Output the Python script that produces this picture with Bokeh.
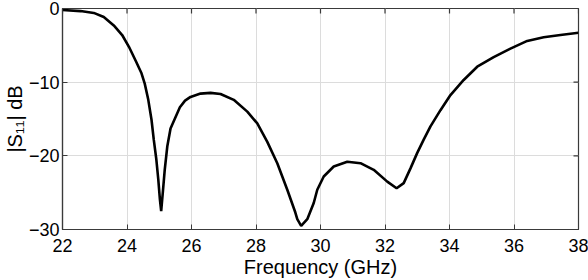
import math
from bokeh.plotting import figure
from bokeh.models import Range1d, FixedTicker
from bokeh.embed import file_html
from bokeh.resources import INLINE

# Data
freq_ghz = [22.0, 22.56, 22.97, 23.28, 23.59, 23.85, 24.06, 24.28, 24.45, 24.55,
            24.66, 24.76, 24.83, 24.91, 24.97, 25.02, 25.06, 25.11, 25.17, 25.25,
            25.35, 25.5, 25.64, 25.8, 25.97, 26.28, 26.59, 26.9, 27.31, 27.73,
            28.04, 28.35, 28.66, 28.97, 29.22, 29.28, 29.40, 29.59, 29.79, 29.9,
            30.1, 30.41, 30.83, 31.24, 31.65, 32.07, 32.36, 32.58, 32.79, 33.0,
            33.2, 33.41, 33.72, 34.03, 34.44, 34.86, 35.37, 35.89, 36.41, 36.92,
            37.44, 38.0]
s11_db = [-0.2, -0.35, -0.6, -1.15, -2.3, -3.6, -5.2, -7.2, -8.8, -10.2,
          -12.4, -15.1, -17.8, -20.5, -23.2, -25.9, -27.5, -25.0, -21.9, -18.7,
          -16.3, -14.8, -13.4, -12.5, -12.0, -11.55, -11.45, -11.6, -12.4, -14.0,
          -15.6, -18.1, -21.0, -24.6, -27.7, -28.6, -29.5, -28.6, -26.4, -24.6,
          -22.8, -21.45, -20.8, -21.0, -21.9, -23.5, -24.4, -23.7, -21.7, -19.6,
          -17.8, -16.0, -13.8, -11.75, -9.7, -7.9, -6.6, -5.45, -4.4, -3.9,
          -3.6, -3.3]

x_ticks = [22, 24, 26, 28, 30, 32, 34, 36, 38]
y_ticks = [-30, -20, -10, 0]
x_title = "Frequency (GHz)"
y_title = "|S\u2081\u2081| dB"

FONT = "Liberation Sans"
AX = "#3a3a3a"

p = figure(width=588, height=280, output_backend="svg", toolbar_location=None,
           x_range=Range1d(22, 38), y_range=Range1d(-30, 0),
           min_border_left=62, min_border_right=10, min_border_top=8,
           min_border_bottom=50)
p.background_fill_color = "white"
p.border_fill_color = "white"
p.outline_line_color = AX
p.outline_line_width = 1.2

for ax in (p.xaxis[0], p.yaxis[0]):
    ax.major_tick_in = 5
    ax.major_tick_out = 0
    ax.minor_tick_in = 0
    ax.minor_tick_out = 0
    ax.axis_line_color = AX
    ax.axis_line_width = 1.2
    ax.major_tick_line_color = AX
    ax.major_label_text_font = FONT
    ax.major_label_text_font_size = "18px"
    ax.major_label_text_color = "black"
    ax.axis_label_text_font = FONT
    ax.axis_label_text_font_style = "normal"
    ax.axis_label_text_font_size = "20px"
    ax.axis_label_text_color = "black"

p.xaxis[0].ticker = FixedTicker(ticks=x_ticks)
p.yaxis[0].ticker = FixedTicker(ticks=y_ticks)
p.xaxis[0].axis_label = x_title
p.yaxis[0].axis_label = y_title
p.xaxis[0].major_label_standoff = 9
p.xaxis[0].axis_label_standoff = 1
p.yaxis[0].major_label_standoff = 3
p.yaxis[0].axis_label_standoff = 0

p.xgrid.ticker = FixedTicker(ticks=x_ticks)
p.ygrid.ticker = FixedTicker(ticks=y_ticks)
p.grid.grid_line_color = "#dcdcdc"
p.grid.grid_line_width = 1

# inner tick marks on the top and right borders (box style)
y_top = p.y_range.end
x_right = p.x_range.end
p.scatter(x_ticks, [y_top] * len(x_ticks), marker="dash", size=10, angle=math.pi / 2,
          line_color=AX, line_width=1.2)
p.scatter([x_right] * len(y_ticks), y_ticks, marker="dash", size=10,
          line_color=AX, line_width=1.2)

p.line(freq_ghz, s11_db, line_color="black", line_width=2.6)

open("out.html", "w").write(file_html(p, INLINE))
